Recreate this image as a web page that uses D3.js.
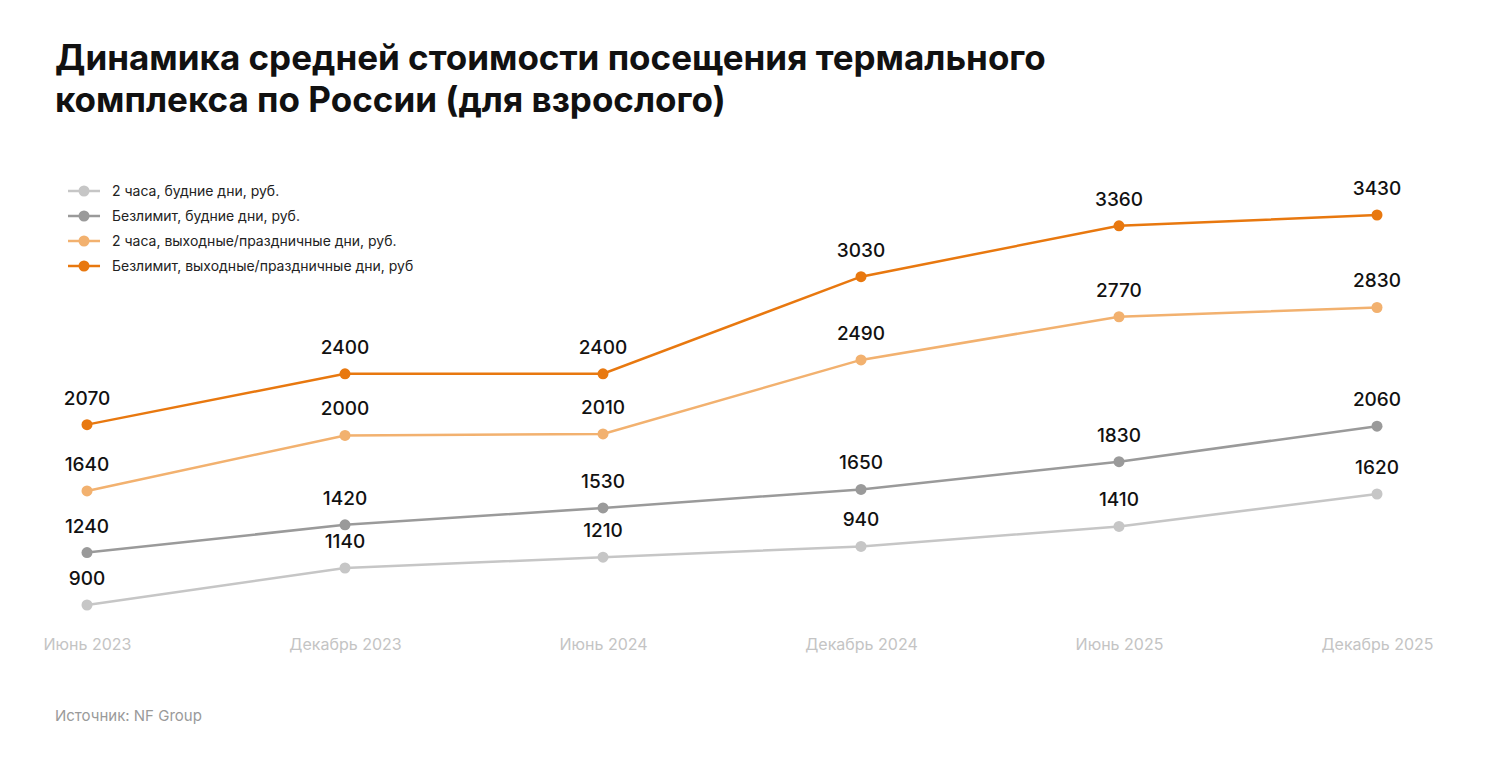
<!DOCTYPE html>
<html>
<head>
<meta charset="utf-8">
<script src="https://cdn.jsdelivr.net/npm/d3@7"></script>
<style>
  body { margin: 0; background: #fff; }
  text { font-family: Inter, "Noto Sans", sans-serif; }
</style>
</head>
<body>
<svg id="chart" width="1500" height="762"></svg>
<script>
const periods = ["Июнь 2023", "Декабрь 2023", "Июнь 2024", "Декабрь 2024", "Июнь 2025", "Декабрь 2025"];
const seriesNames = [
  "2 часа, будние дни, руб.",
  "Безлимит, будние дни, руб.",
  "2 часа, выходные/праздничные дни, руб.",
  "Безлимит, выходные/праздничные дни, руб"
];
const colors = ["#c6c6c6", "#9a9a9a", "#f2b16f", "#e8780f"];
// plotted positions as drawn in the source
const twoHoursWeekday = [900, 1140, 1210, 1280, 1410, 1620];
const unlimitedWeekday = [1240, 1420, 1530, 1650, 1830, 2060];
const twoHoursWeekend = [1640, 2000, 2010, 2490, 2770, 2830];
const unlimitedWeekend = [2070, 2400, 2400, 3030, 3360, 3430];
// printed labels (source labels 940 for the Dec 2024 point)
const twoHoursWeekdayLabels = ["900", "1140", "1210", "940", "1410", "1620"];

const series = [
  { values: twoHoursWeekday, labels: twoHoursWeekdayLabels },
  { values: unlimitedWeekday },
  { values: twoHoursWeekend },
  { values: unlimitedWeekend }
];

const svg = d3.select("#chart");

// Title
svg.append("text").attr("x", 55).attr("y", 70)
  .style("font-size", "35px").style("font-weight", 700).attr("fill", "#111")
  .text("Динамика средней стоимости посещения термального");
svg.append("text").attr("x", 55).attr("y", 112)
  .style("font-size", "35px").style("font-weight", 700).attr("fill", "#111")
  .text("комплекса по России (для взрослого)");

const x = d3.scalePoint().domain(periods).range([87, 1377]);
const y = d3.scaleLinear().domain([900, 3430]).range([605, 215]);

// x axis labels
const xAxis = svg.append("g").attr("transform", "translate(0,639)")
  .call(d3.axisBottom(x).tickSize(0).tickPadding(0));
xAxis.select(".domain").remove();
xAxis.selectAll("text").style("font-size", "16px").attr("fill", "#c4c4c4")
  .style("font-family", "Inter, sans-serif");

const line = d3.line().x((d, i) => x(periods[i])).y(d => y(d));

series.forEach((s, k) => {
  const g = svg.append("g");
  g.append("path").datum(s.values).attr("d", line)
    .attr("fill", "none").attr("stroke", colors[k]).attr("stroke-width", 2.5);
  g.selectAll("circle").data(s.values).enter().append("circle")
    .attr("cx", (d, i) => x(periods[i])).attr("cy", d => y(d))
    .attr("r", 5.5).attr("fill", colors[k]);
  g.selectAll("text").data(s.values).enter().append("text")
    .attr("x", (d, i) => x(periods[i])).attr("y", d => y(d) - 20)
    .attr("text-anchor", "middle")
    .style("font-size", "19px").style("font-weight", 500).attr("fill", "#111")
    .text((d, i) => s.labels ? s.labels[i] : d);
});

// Legend
const legend = svg.append("g");
seriesNames.forEach((name, k) => {
  const ly = 191 + k * 25;
  legend.append("line").attr("x1", 68).attr("x2", 100).attr("y1", ly).attr("y2", ly)
    .attr("stroke", colors[k]).attr("stroke-width", 2.5);
  legend.append("circle").attr("cx", 84).attr("cy", ly).attr("r", 5.5).attr("fill", colors[k]);
  legend.append("text").attr("x", 112).attr("y", ly + 5)
    .style("font-size", "14px").attr("fill", "#222").text(name);
});

// Source
svg.append("text").attr("x", 55).attr("y", 721)
  .style("font-size", "15px").attr("fill", "#9a9a9a").text("Источник: NF Group");
</script>
</body>
</html>
